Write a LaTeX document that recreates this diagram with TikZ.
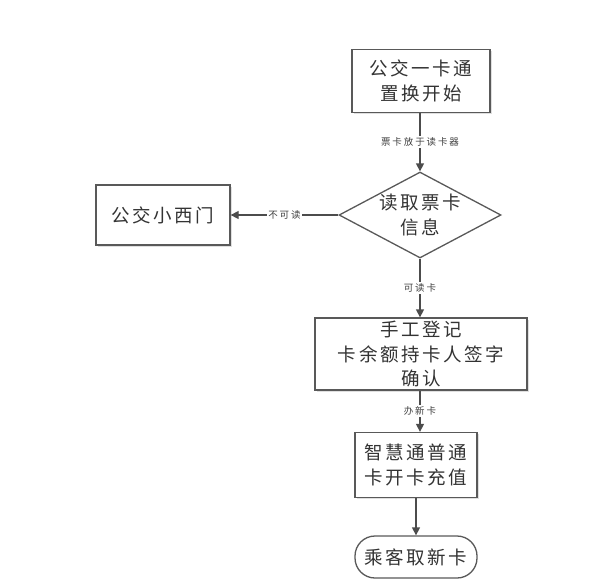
\documentclass[tikz,border=0pt]{standalone}
\usepackage{fontspec}
\setmainfont{Noto Sans CJK SC}
\newfontfamily\widecjk[LetterSpace=14]{Noto Sans CJK SC}
\newfontfamily\labcjk[LetterSpace=20]{Noto Sans CJK SC}
\usetikzlibrary{arrows.meta,shapes.geometric,shadows}
\begin{document}
\begin{tikzpicture}[x=1pt,y=-1pt,
  txt/.style={font=\widecjk\fontsize{18.5}{24.5}\selectfont,text=black!80},
  boxstyle/.style={txt,draw=black!65,line width=1.3pt,fill=white,rectangle,align=center,inner sep=0pt,drop shadow={shadow xshift=1.5pt,shadow yshift=-1.5pt,opacity=0.25}},
  decstyle/.style={txt,draw=black!65,line width=1.3pt,fill=white,diamond,aspect=1.9,align=center,inner sep=0pt,minimum width=162pt,minimum height=86pt},
  lab/.style={fill=white,font=\labcjk\fontsize{9.5}{11}\selectfont,inner sep=1.5pt,text=black!75},
  arr/.style={draw=black!70,line width=1.3pt,-{Triangle[length=8pt,width=8pt]}}]
\useasboundingbox (0,0) rectangle (591,584);
\node[boxstyle,minimum width=138pt,minimum height=63pt] (start) at (421,81) {公交一卡通\\置换开始};
\node[decstyle] (read) at (420,215) {读取票卡\\信息};
\node[boxstyle,minimum width=134pt,minimum height=60pt] (gate) at (163,215) {公交小西门};
\node[boxstyle,minimum width=212pt,minimum height=72pt] (manual) at (421,354) {手工登记\\卡余额持卡人签字\\确认};
\node[boxstyle,minimum width=122pt,minimum height=65pt] (open) at (416,465) {智慧通普通\\卡开卡充值};
\node[txt,draw=black!65,line width=1.3pt,fill=white,rounded corners=20pt,minimum width=122pt,minimum height=42pt,inner sep=0pt] (take) at (416,557) {乘客取新卡};
\draw[arr] (start.south -| read.north) -- node[lab,pos=0.5]{票卡放于读卡器} (read.north);
\draw[arr] (read.west) -- node[lab,pos=0.5]{不可读} (gate.east);
\draw[arr] (read.south) -- node[lab,pos=0.5]{可读卡} (read.south |- manual.north);
\draw[arr] (manual.south -| read.south) -- node[lab,pos=0.5]{办新卡} (read.south |- open.north);
\draw[arr] (open.south) -- (take.north);
\end{tikzpicture}
\end{document}
